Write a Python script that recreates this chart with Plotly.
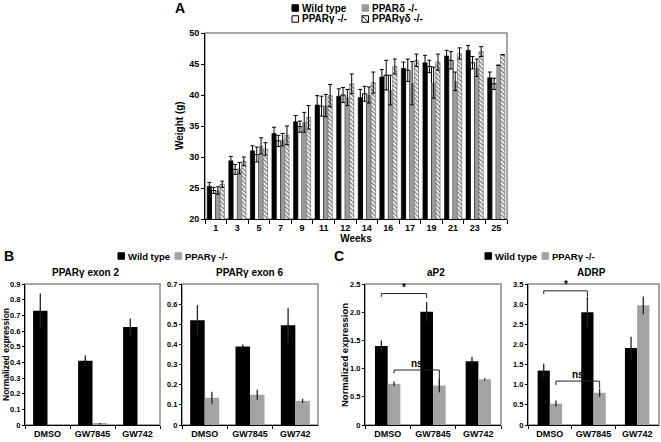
import plotly.graph_objects as go

W, H = 661, 442
FONT = "Liberation Sans, Arial, sans-serif"

# ---- panel A : body weight ----
weeks = ["1", "3", "5", "7", "9", "11", "12", "14", "16", "17", "19", "21", "23", "25"]
wt_weight = [25.3, 29.4, 31.0, 33.8, 35.7, 38.4, 39.8, 39.6, 42.9, 44.3, 45.2, 46.3, 47.2, 42.8]
wt_weight_err = [0.6, 0.7, 0.8, 1.0, 1.0, 1.5, 1.2, 1.3, 1.2, 1.0, 1.2, 0.9, 0.8, 0.9]
g_weight = [24.6, 28.0, 30.4, 32.6, 34.9, 38.2, 40.0, 40.2, 43.2, 44.0, 44.6, 45.6, 45.2, 41.8]
g_weight_err = [0.5, 0.8, 1.2, 0.9, 0.9, 1.6, 1.2, 1.2, 2.4, 1.8, 1.0, 1.4, 1.0, 0.9]
d_weight = [24.6, 28.2, 31.8, 32.8, 35.6, 38.3, 39.6, 40.0, 40.8, 41.9, 42.0, 42.2, 44.4, 44.8]
d_weight_err = [0.6, 0.9, 1.3, 1.0, 1.6, 1.8, 1.3, 1.3, 2.4, 3.5, 2.5, 1.5, 1.4, None]
gd_weight = [25.6, 29.3, 31.3, 33.5, 36.4, 39.9, 41.8, 42.0, 44.6, 45.6, 45.3, 46.7, 47.0, 46.5]
gd_weight_err = [0.5, 0.7, 1.0, 1.5, 1.9, 1.8, 1.6, 1.7, 1.2, 1.0, 1.3, 0.9, 0.8, None]

# ---- panels B and C : expression ----
treatments = ["DMSO", "GW7845", "GW742"]
exon2_wt = [0.73, 0.41, 0.625]
exon2_wt_err = [0.11, 0.035, 0.055]
exon2_ko = [0.003, 0.008, 0.002]
exon2_ko_err = [None, 0.005, None]
exon6_wt = [0.52, 0.39, 0.495]
exon6_wt_err = [0.075, 0.01, 0.085]
exon6_ko = [0.135, 0.15, 0.12]
exon6_ko_err = [0.03, 0.025, 0.01]
ap2_wt = [1.40, 2.01, 1.13]
ap2_wt_err = [0.1, 0.17, 0.08]
ap2_ko = [0.73, 0.70, 0.81]
ap2_ko_err = [0.04, 0.12, 0.02]
adrp_wt = [1.35, 2.80, 1.91]
adrp_wt_err = [0.17, 0.38, 0.28]
adrp_ko = [0.53, 0.80, 2.97]
adrp_ko_err = [0.08, 0.1, 0.22]

exon2_ticks = [0, 0.1, 0.2, 0.3, 0.4, 0.5, 0.6, 0.7, 0.8, 0.9]
exon2_labels = ["0", "0.1", "0.2", "0.3", "0.4", "0.5", "0.6", "0.7", "0.8", "0.9"]
exon6_ticks = [0, 0.1, 0.2, 0.3, 0.4, 0.5, 0.6, 0.7]
exon6_labels = ["0", "0.1", "0.2", "0.3", "0.4", "0.5", "0.6", "0.7"]
ap2_ticks = [0, 0.5, 1.0, 1.5, 2.0, 2.5]
ap2_labels = ["0", "0.5", "1.0", "1.5", "2.0", "2.5"]
adrp_ticks = [0, 0.5, 1.0, 1.5, 2.0, 2.5, 3.0, 3.5]
adrp_labels = ["0", "0.5", "1.0", "1.5", "2.0", "2.5", "3.0", "3.5"]

# significance brackets: (label, bar offset, level, left leg end, right leg end)
ap2_brackets = [("*", -1, 2.33, 2.27, 2.25), ("ns", 1, 0.975, 0.92, 0.72)]
adrp_brackets = [("*", -1, 3.33, 3.25, 3.19), ("ns", 1, 1.09, 0.99, 0.92)]

GRAY = "#a3a3a3"


def px_x(a, b):
    return [a / W, b / W]


def px_y(top, bottom):
    return [1 - bottom / H, 1 - top / H]


fig = go.Figure()

# panel A bars (order inside a group: WT, PPARg, PPARd, PPARgd)
a_series = [
    (wt_weight, wt_weight_err, dict(color="black", line=dict(color="black", width=0.5))),
    (g_weight, g_weight_err, dict(color="white", line=dict(color="black", width=1))),
    (d_weight, d_weight_err, dict(color="#9a9a9a", line=dict(width=0))),
    (gd_weight, gd_weight_err, dict(color="white", line=dict(color="#444", width=0.5),
                                    pattern=dict(shape="\\", fgcolor="black", bgcolor="white",
                                                 size=3, solidity=0.45))),
]
for vals, errs, marker in a_series:
    fig.add_trace(go.Bar(
        x=weeks, y=vals, marker=marker, xaxis="x", yaxis="y", showlegend=False,
        error_y=dict(type="data", array=errs, color="black", thickness=1, width=2),
    ))

# panels B and C
panels = [
    ("x2", "y2", exon2_wt, exon2_wt_err, exon2_ko, exon2_ko_err, 0.32),
    ("x3", "y3", exon6_wt, exon6_wt_err, exon6_ko, exon6_ko_err, 0.32),
    ("x4", "y4", ap2_wt, ap2_wt_err, ap2_ko, ap2_ko_err, 0.28),
    ("x5", "y5", adrp_wt, adrp_wt_err, adrp_ko, adrp_ko_err, 0.28),
]
for xa, ya, wt, wt_err, ko, ko_err, w in panels:
    fig.add_trace(go.Bar(
        x=treatments, y=wt, width=w, offset=-w, marker=dict(color="black", line=dict(width=0)),
        xaxis=xa, yaxis=ya, showlegend=False,
        error_y=dict(type="data", array=wt_err, color="#222", thickness=1.3, width=0),
    ))
    fig.add_trace(go.Bar(
        x=treatments, y=ko, width=w, offset=0, marker=dict(color=GRAY, line=dict(width=0)),
        xaxis=xa, yaxis=ya, showlegend=False,
        error_y=dict(type="data", array=ko_err, color="#222", thickness=1.3, width=0),
    ))

tick_font = dict(family=FONT, size=9, color="black", weight="bold")
small_tick = dict(family=FONT, size=7.5, color="black", weight="bold")
title_font = dict(family=FONT, size=10, color="black", weight="bold")

layout = dict(
    width=W, height=H, margin=dict(l=0, r=0, t=0, b=0),
    paper_bgcolor="white", plot_bgcolor="white",
    barmode="group", bargap=0.2, bargroupgap=0,
    font=dict(family=FONT, color="black"),
    showlegend=False,
)
layout["xaxis"] = dict(
    domain=px_x(205, 507), anchor="y", type="category", tickson="boundaries",
    ticks="outside", ticklen=4, tickcolor="black", showline=True, linecolor="black",
    tickfont=tick_font, tickangle=0, automargin=False,
    title=dict(text="Weeks", font=title_font, standoff=0),
)
layout["yaxis"] = dict(
    domain=px_y(33, 219), anchor="x", range=[20, 50], dtick=5, ticks="outside", ticklen=3,
    tickcolor="black", showline=True, linecolor="black", showgrid=False, zeroline=False,
    tickfont=tick_font, automargin=False,
)

sub = [
    ("2", px_x(25, 160), exon2_ticks, exon2_labels, [0, 0.9]),
    ("3", px_x(182, 318), exon6_ticks, exon6_labels, [0, 0.7]),
    ("4", px_x(365, 501), ap2_ticks, ap2_labels, [0, 2.5]),
    ("5", px_x(528, 659), adrp_ticks, adrp_labels, [0, 3.5]),
]
for n, xd, tv, tt, rng in sub:
    layout["xaxis" + n] = dict(
        domain=xd, anchor="y" + n, type="category", tickson="boundaries",
        ticks="outside", ticklen=3, tickcolor="black", showline=True, linecolor="black",
        tickfont=tick_font, tickangle=0, automargin=False,
    )
    layout["yaxis" + n] = dict(
        domain=px_y(284, 425), anchor="x" + n, range=rng, tickvals=tv, ticktext=tt,
        ticks="outside", ticklen=2, tickcolor="black", showline=True, linecolor="black",
        showgrid=False, zeroline=False, tickfont=small_tick, automargin=False,
    )

fig.update_layout(**layout)

# gray frames around each plot area
shapes = []
for n in ["", "2", "3", "4", "5"]:
    shapes.append(dict(type="rect", xref="x%s domain" % n, yref="y%s domain" % n,
                       x0=0, x1=1, y0=0, y1=1, line=dict(color="#8a8a8a", width=1.5),
                       layer="below"))

annotations = []
for xa, ya, brackets, w in [("x4", "y4", ap2_brackets, 0.28), ("x5", "y5", adrp_brackets, 0.28)]:
    for label, side, level, left_end, right_end in brackets:
        x0 = 0 + side * w / 2
        x1 = 1 + side * w / 2
        line = dict(color="#222", width=1)
        shapes.append(dict(type="line", xref=xa, yref=ya, x0=x0, x1=x1, y0=level, y1=level, line=line))
        shapes.append(dict(type="line", xref=xa, yref=ya, x0=x0, x1=x0, y0=level, y1=left_end, line=line))
        shapes.append(dict(type="line", xref=xa, yref=ya, x0=x1, x1=x1, y0=level, y1=right_end, line=line))
        annotations.append(dict(xref=xa, yref=ya, x=(x0 + x1) / 2, y=level, text=label,
                                showarrow=False, yanchor="bottom", yshift=-1,
                                font=dict(family=FONT, size=10, color="black", weight="bold")))


def text(x, y, s, size=10, anchor="left", angle=0):
    annotations.append(dict(xref="paper", yref="paper", x=x / W, y=1 - y / H, text=s,
                            showarrow=False, xanchor=anchor, yanchor="middle", textangle=angle,
                            font=dict(family=FONT, size=size, color="black", weight="bold")))


def swatch(x, y, fill, border="black"):
    s = 6.5
    shapes.append(dict(type="rect", xref="paper", yref="paper", x0=x / W, x1=(x + s) / W,
                       y0=1 - (y + s / 2) / H, y1=1 - (y - s / 2) / H,
                       fillcolor=fill, line=dict(color=border, width=1)))


# panel letters
text(173, 8, "A", size=14)
text(2, 256, "B", size=14)
text(332, 256, "C", size=14)

# y axis titles
text(179, 126, "Weight (g)", anchor="center", angle=-90)
text(6, 355, "Normalized expression", size=8.5, anchor="center", angle=-90)
text(344, 355, "Normalized expression", size=9.5, anchor="center", angle=-90)

# legend A
swatch(292, 8, "black")
text(300, 8, "Wild type", size=10)
swatch(362, 8, "#9a9a9a", border="#9a9a9a")
text(370, 8, "PPARδ -/-", size=10)
swatch(292, 19, "white")
text(300, 19, "PPARγ -/-", size=10)
swatch(362, 19, "white")
shapes.append(dict(type="line", xref="paper", yref="paper", x0=362 / W, x1=368.5 / W,
                   y0=1 - 15.75 / H, y1=1 - 22.25 / H, line=dict(color="black", width=1)))
text(370, 19, "PPARγδ -/-", size=10)

# legends B and C
for x0 in [118, 485]:
    swatch(x0, 256, "black")
    text(x0 + 8, 256, "Wild type", size=9.5)
    swatch(x0 + 57, 256, GRAY, border=GRAY)
    text(x0 + 65, 256, "PPARγ -/-", size=9.5)

# sub titles
text(85, 272, "PPARγ exon 2", anchor="center")
text(249, 272, "PPARγ exon 6", anchor="center")
text(436, 272, "aP2", anchor="center")
text(591, 272, "ADRP", anchor="center")

fig.update_layout(shapes=shapes, annotations=annotations)
fig.write_html("out.html", config={"displayModeBar": False},
               post_script="document.body.style.margin='0';")
